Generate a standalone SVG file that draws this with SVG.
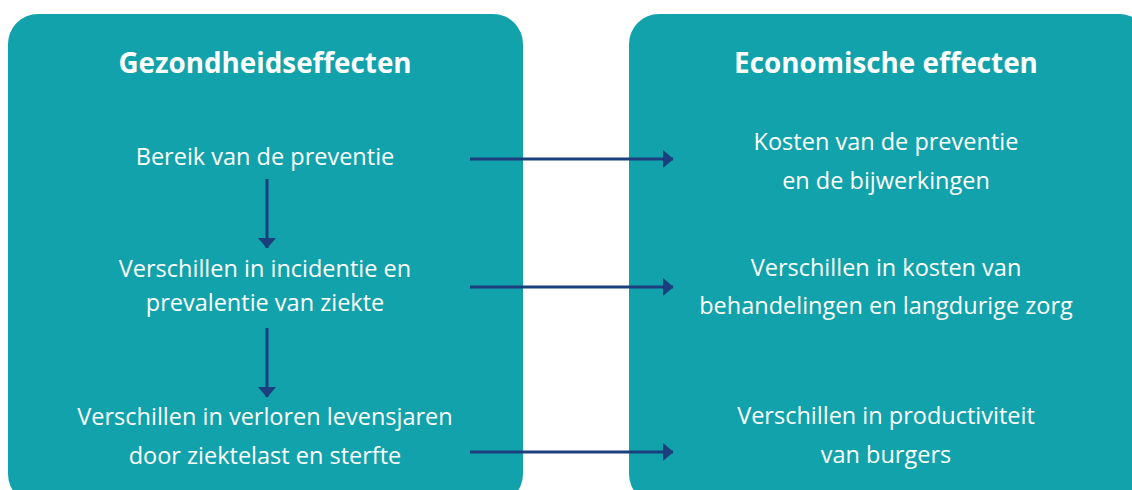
<svg xmlns="http://www.w3.org/2000/svg" width="1132" height="490" viewBox="0 0 1132 490">
<defs>
<style>
.box{fill:#11a2ab;}
.t{font-family:"Open Sans","Noto Sans",sans-serif;fill:#ffffff;text-anchor:middle;font-size:23.5px;}
.h{font-family:"Open Sans","Noto Sans",sans-serif;fill:#ffffff;text-anchor:middle;font-size:27.8px;font-weight:bold;}
.c{stroke:#1a3f7c;stroke-width:3;fill:none;}
.ah{fill:#1a3f7c;}
</style>
<marker id="arr" viewBox="0 0 11 19" refX="10.5" refY="9.5" markerWidth="11" markerHeight="19" markerUnits="userSpaceOnUse" orient="auto">
<path d="M0,0 L11,9.5 L0,19 Z" class="ah"/>
</marker>
</defs>
<rect width="1132" height="490" fill="#ffffff"/>
<g id="health">
<rect class="box" x="8" y="14" width="515" height="490" rx="30" ry="30"/>
<text class="h" x="265" y="73">Gezondheidseffecten</text>
</g>
<g id="economic">
<rect class="box" x="629" y="14" width="520" height="490" rx="30" ry="30"/>
<text class="h" x="886" y="73">Economische effecten</text>
</g>
<g id="n-bereik"><text class="t" x="265" y="165">Bereik van de preventie</text></g>
<g id="n-incidentie"><text class="t" x="265" y="277">Verschillen in incidentie en</text><text class="t" x="265" y="311">prevalentie van ziekte</text></g>
<g id="n-levensjaren"><text class="t" x="265" y="425">Verschillen in verloren levensjaren</text><text class="t" x="265" y="464">door ziektelast en sterfte</text></g>
<g id="n-kosten"><text class="t" x="886" y="150">Kosten van de preventie</text><text class="t" x="886" y="189">en de bijwerkingen</text></g>
<g id="n-behandeling"><text class="t" x="886" y="276">Verschillen in kosten van</text><text class="t" x="886" y="314">behandelingen en langdurige zorg</text></g>
<g id="n-productiviteit"><text class="t" x="886" y="424">Verschillen in productiviteit</text><text class="t" x="886" y="463">van burgers</text></g>
<g id="connectors">
<line class="c" x1="470" y1="159" x2="673" y2="159" marker-end="url(#arr)"/>
<line class="c" x1="470" y1="287" x2="673" y2="287" marker-end="url(#arr)"/>
<line class="c" x1="470" y1="452" x2="673" y2="452" marker-end="url(#arr)"/>
<line class="c" x1="267" y1="179" x2="267" y2="248" marker-end="url(#arr)"/>
<line class="c" x1="267" y1="328" x2="267" y2="397" marker-end="url(#arr)"/>
</g>
</svg>
